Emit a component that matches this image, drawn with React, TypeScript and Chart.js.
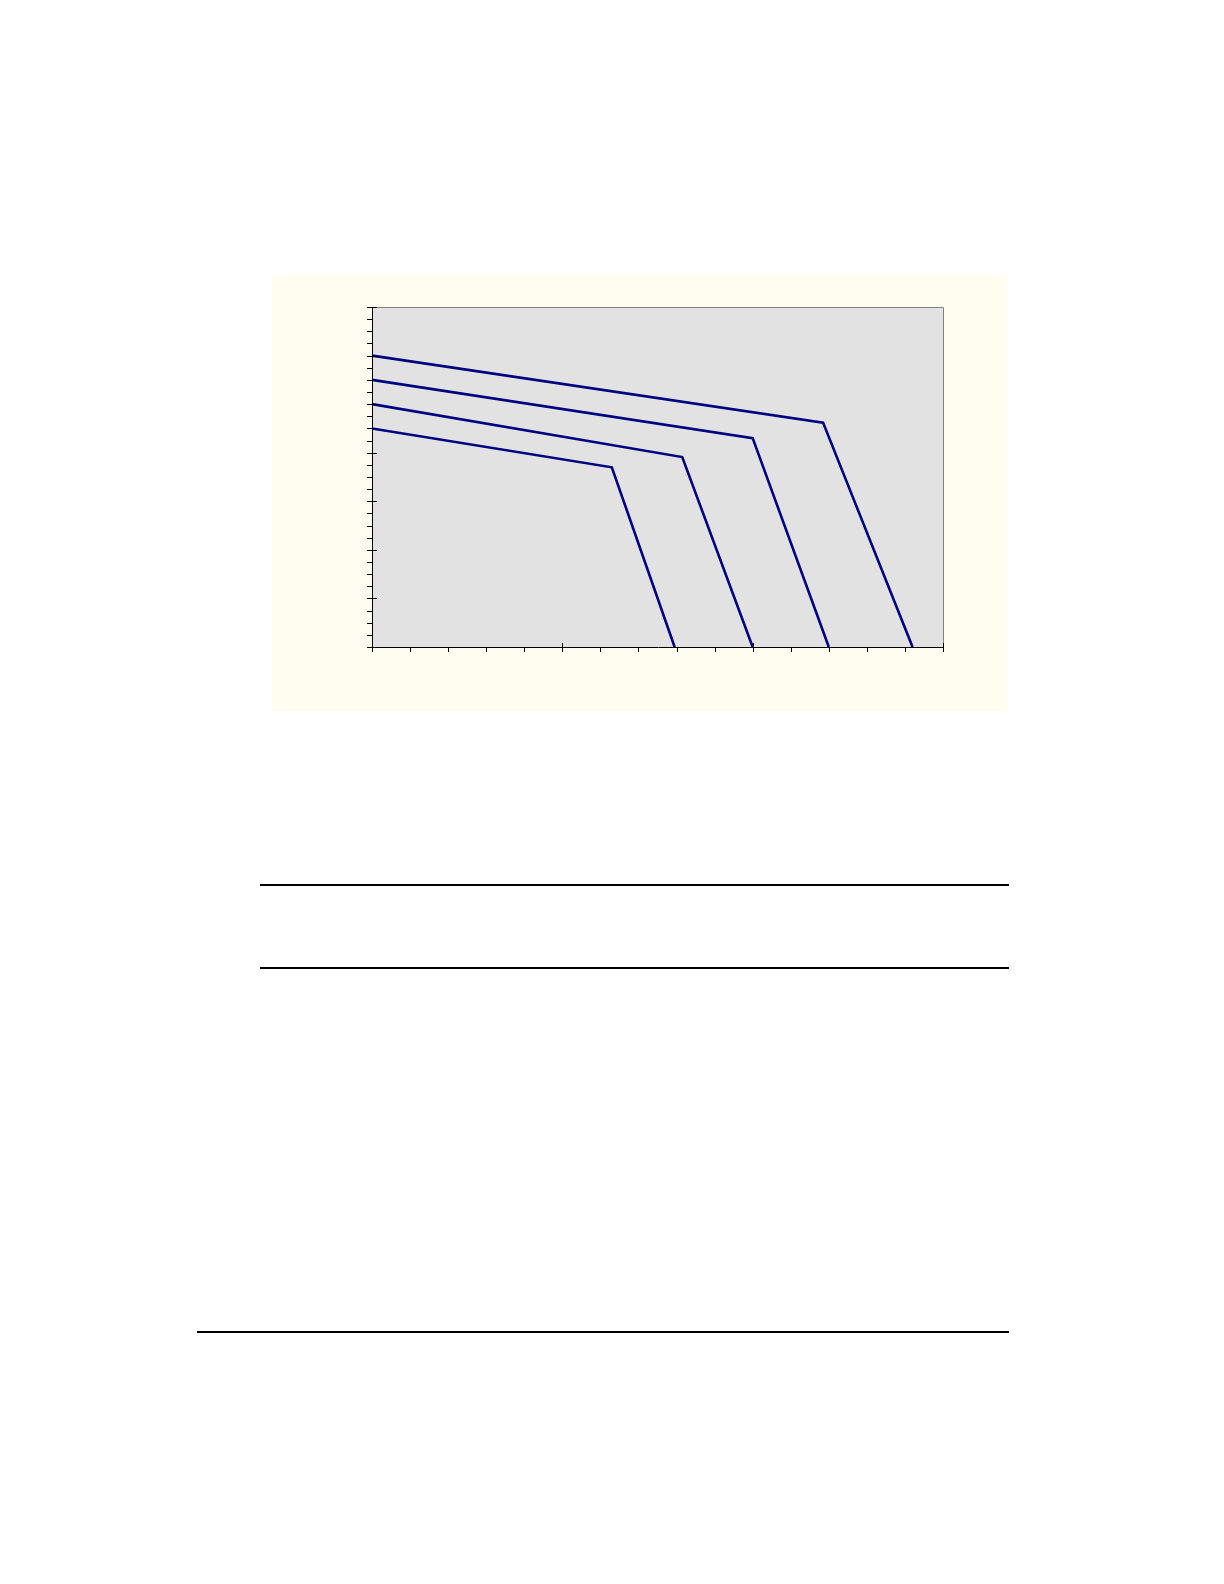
import { useEffect, useRef } from 'react';
import { Chart, ChartConfiguration, registerables } from 'chart.js';

Chart.register(...registerables);

// Series (x, y in axis units; no labels are shown)
const lineAX = [0, 11.85, 14.2];
const lineAY = [6.0, 4.62, 0];
const lineBX = [0, 10.0, 12.0];
const lineBY = [5.5, 4.3, 0];
const lineCX = [0, 8.15, 10.0];
const lineCY = [5.0, 3.91, 0];
const lineDX = [0, 6.3, 7.95];
const lineDY = [4.5, 3.7, 0];

// Axis ranges and tick steps
const xRange = [0, 15];
const xMinorStep = 1;
const xMajorStep = 5;
const yRange = [0, 7];
const yMinorStep = 0.25;
const yMajorStep = 1;

const toPoints = (xs: number[], ys: number[]) => xs.map((x, i) => ({ x, y: ys[i] }));

const stepValues = (min: number, max: number, step: number) => {
  const out: number[] = [];
  for (let v = min; v <= max + 1e-9; v += step) out.push(Math.round(v * 1000) / 1000);
  return out;
};

const isMajor = (v: number, major: number) => Math.abs(v / major - Math.round(v / major)) < 1e-6;

// Background, plot frame and axis tick marks
const framePlugin = {
  id: 'frame',
  beforeDraw(chart: Chart) {
    const { ctx, chartArea, width, height } = chart;
    const { left, top, right, bottom } = chartArea;
    ctx.save();
    ctx.fillStyle = '#FFFCF0';
    ctx.fillRect(0, 0, width, height);
    ctx.fillStyle = '#E2E2E2';
    ctx.fillRect(left, top, right - left, bottom - top);
    ctx.restore();
  },
  afterDraw(chart: Chart) {
    const { ctx, chartArea, scales } = chart;
    const { left, top, right, bottom } = chartArea;
    const xs = scales.x;
    const ys = scales.y;
    ctx.save();
    ctx.lineWidth = 1;
    // top and right border
    ctx.strokeStyle = '#808080';
    ctx.beginPath();
    ctx.moveTo(left, top + 0.5);
    ctx.lineTo(right + 0.5, top + 0.5);
    ctx.lineTo(right + 0.5, bottom);
    ctx.stroke();
    // axes
    ctx.strokeStyle = '#000000';
    ctx.beginPath();
    ctx.moveTo(left + 0.5, top);
    ctx.lineTo(left + 0.5, bottom + 0.5);
    ctx.lineTo(right + 1, bottom + 0.5);
    ctx.stroke();
    // y ticks
    ctx.beginPath();
    stepValues(yRange[0], yRange[1], yMinorStep).forEach((v) => {
      const py = Math.round(ys.getPixelForValue(v)) + 0.5;
      const major = isMajor(v, yMajorStep);
      ctx.moveTo(left - 5, py);
      ctx.lineTo(major ? left + 5 : left, py);
    });
    // x ticks
    stepValues(xRange[0], xRange[1], xMinorStep).forEach((v) => {
      const px = Math.round(xs.getPixelForValue(v)) + 0.5;
      const major = isMajor(v, xMajorStep);
      ctx.moveTo(px, major ? bottom - 4 : bottom);
      ctx.lineTo(px, bottom + 5);
    });
    ctx.stroke();
    ctx.restore();
  },
};

function BreakLinesChart() {
  const chartRef = useRef<HTMLCanvasElement>(null);
  const chartInstance = useRef<Chart | null>(null);

  useEffect(() => {
    if (!chartRef.current) return;
    if (chartInstance.current) chartInstance.current.destroy();

    const lineStyle = {
      borderColor: '#000080',
      borderWidth: 2.6,
      pointRadius: 0,
      tension: 0,
      fill: false,
    };

    const config: ChartConfiguration<'line'> = {
      type: 'line',
      data: {
        datasets: [
          { label: 'A', data: toPoints(lineAX, lineAY), ...lineStyle },
          { label: 'B', data: toPoints(lineBX, lineBY), ...lineStyle },
          { label: 'C', data: toPoints(lineCX, lineCY), ...lineStyle },
          { label: 'D', data: toPoints(lineDX, lineDY), ...lineStyle },
        ],
      },
      options: {
        responsive: false,
        animation: false,
        layout: { padding: { left: 100, top: 32, right: 64, bottom: 64 } },
        plugins: {
          legend: { display: false },
          tooltip: { enabled: false },
        },
        scales: {
          x: { type: 'linear', min: xRange[0], max: xRange[1], display: false },
          y: { type: 'linear', min: yRange[0], max: yRange[1], display: false },
        },
      },
      plugins: [framePlugin],
    };

    chartInstance.current = new Chart(chartRef.current, config);

    return () => {
      if (chartInstance.current) {
        chartInstance.current.destroy();
        chartInstance.current = null;
      }
    };
  }, []);

  return (
    <canvas
      ref={chartRef}
      width={735}
      height={436}
      style={{ position: 'absolute', left: 272, top: 275, width: 735, height: 436 }}
    ></canvas>
  );
}

const rule = (left: number, top: number, width: number) => (
  <div style={{ position: 'absolute', left, top, width, height: 2, background: '#000' }} />
);

export default function App() {
  return (
    <div>
      <BreakLinesChart />
      {rule(260, 884, 749)}
      {rule(260, 967, 749)}
      {rule(197, 1331, 812)}
    </div>
  );
}
